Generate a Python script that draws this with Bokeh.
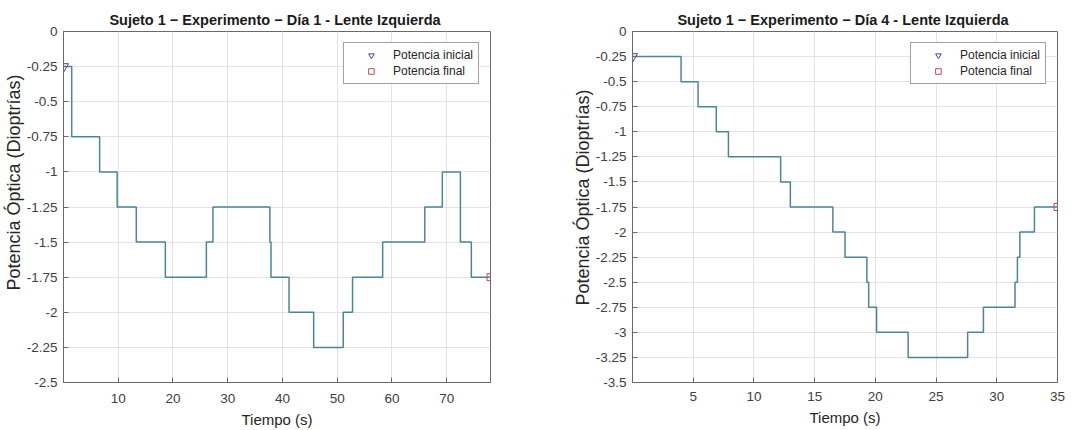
from bokeh.plotting import figure
from bokeh.layouts import row
from bokeh.models import FixedTicker, Range1d, Legend, LegendItem, Title
from bokeh.embed import file_html
from bokeh.resources import INLINE

# ---- data ----
titles = ["Sujeto 1  \u2212 Experimento \u2212 D\u00eda 1 - Lente Izquierda".replace("\u00ea", "\u00ed"),
          "Sujeto 1  \u2212 Experimento \u2212 D\u00eda 4 - Lente Izquierda".replace("\u00ea", "\u00ed")]

t1 = [0, 1.5, 6.6, 9.8, 13.3, 18.6, 26.1, 27.3, 37.7, 37.9, 41.2, 45.7, 51.1, 52.8,
      58.3, 66.0, 69.2, 72.5, 74.5, 78]
v1 = [-0.25, -0.75, -1.0, -1.25, -1.5, -1.75, -1.5, -1.25, -1.5, -1.75, -2.0, -2.25,
      -2.0, -1.75, -1.5, -1.25, -1.0, -1.5, -1.75, -1.75]

t2 = [0, 4.0, 5.4, 6.9, 7.9, 12.2, 13.0, 16.5, 17.5, 19.3, 19.45, 20.1, 22.7, 27.6,
      28.9, 31.5, 31.7, 31.9, 33.1, 35]
v2 = [-0.25, -0.5, -0.75, -1.0, -1.25, -1.5, -1.75, -2.0, -2.25, -2.5, -2.75, -3.0,
      -3.25, -3.0, -2.75, -2.5, -2.25, -2.0, -1.75, -1.75]

x_ticks_1 = [10, 20, 30, 40, 50, 60, 70]
x_ticks_2 = [5, 10, 15, 20, 25, 30, 35]
y_ticks_1 = [0, -0.25, -0.5, -0.75, -1, -1.25, -1.5, -1.75, -2, -2.25, -2.5]
y_ticks_2 = [0, -0.25, -0.5, -0.75, -1, -1.25, -1.5, -1.75, -2, -2.25, -2.5, -2.75,
             -3, -3.25, -3.5]
x_limits = [(0, 78), (0, 35)]
y_limits = [(-2.5, 0), (-3.5, 0)]

x_label = "Tiempo (s)"
y_label = "Potencia \u00d3ptica (Dioptr\u00edas)"
legend_labels = ["Potencia inicial", "Potencia final"]

FONT = "Liberation Sans"
LINE = "#4d8595"
AX = "#6a6a6a"


def style_axis(ax, ticks):
    ax.ticker = FixedTicker(ticks=ticks)
    ax.major_tick_in = 5
    ax.major_tick_out = 0
    ax.minor_tick_in = 0
    ax.minor_tick_out = 0
    ax.axis_line_color = AX
    ax.major_tick_line_color = AX
    ax.major_label_text_font = FONT
    ax.major_label_text_color = "#404040"
    ax.major_label_text_font_size = "13.5px"
    ax.major_label_overrides = {float(v): f"{v:g}" for v in ticks}


def make(idx, t, v, xt, yt, width, bl, br, bb, ylab_offset, xstand):
    p = figure(width=width, height=430, output_backend="svg", toolbar_location=None,
               x_range=Range1d(*x_limits[idx]), y_range=Range1d(*y_limits[idx]),
               min_border_left=bl, min_border_right=br, min_border_top=31,
               min_border_bottom=bb)
    p.title.text = titles[idx]
    p.title.align = "center"
    p.title.text_font = FONT
    p.title.text_font_size = "14.5px"
    p.title.text_font_style = "bold"
    p.title.text_color = "#1a1a1a"
    p.title.standoff = 7

    p.step(t, v, mode="after", line_color=LINE, line_width=1.5)
    r1 = p.scatter([t[0]], [v[0]], marker="inverted_triangle", size=10,
                   line_color="#4040a0", fill_color=None, line_width=1)
    r2 = p.scatter([t[-1]], [v[-1]], marker="square", size=7,
                   line_color="#c04858", fill_color=None, line_width=1)

    style_axis(p.xaxis[0], xt)
    style_axis(p.yaxis[0], yt)
    p.xaxis[0].major_label_standoff = xstand
    p.yaxis[0].major_label_standoff = 6
    ax = p.xaxis[0]
    ax.axis_label = x_label
    ax.axis_label_text_font = FONT
    ax.axis_label_text_font_size = "15px"
    ax.axis_label_text_font_style = "normal"
    ax.axis_label_text_color = "#262626"
    ax.axis_label_standoff = 5

    ylab = Title(text=y_label, align="left", offset=ylab_offset,
                 text_font=FONT, text_font_size="18px", text_font_style="normal",
                 text_color="#262626", standoff=0)
    p.add_layout(ylab, "left")

    p.xgrid.ticker = FixedTicker(ticks=xt)
    p.ygrid.ticker = FixedTicker(ticks=yt)
    p.grid.grid_line_color = "#e3e3e3"
    p.grid.grid_line_width = 1
    p.outline_line_color = AX
    p.outline_line_width = 1
    p.background_fill_color = "white"
    p.border_fill_color = "white"

    legend = Legend(items=[LegendItem(label=legend_labels[0], renderers=[r1]),
                           LegendItem(label=legend_labels[1], renderers=[r2])],
                    location="top_right")
    legend.margin = 11
    legend.padding = 5
    legend.spacing = 2
    legend.glyph_width = 44
    legend.glyph_height = 14
    legend.label_height = 14
    legend.label_standoff = 0
    legend.label_text_font = FONT
    legend.label_text_font_size = "12px"
    legend.label_text_color = "#262626"
    legend.border_line_color = "#404040"
    legend.border_line_width = 1
    legend.background_fill_color = "white"
    legend.background_fill_alpha = 1
    p.add_layout(legend, "center")
    return p


p1 = make(0, t1, v1, x_ticks_1, y_ticks_1, 545, 63, 55, 48, 92, 11)
p2 = make(1, t2, v2, x_ticks_2, y_ticks_2, 545, 87, 33, 46, 77, 9)

layout = row(p1, p2)
open("out.html", "w").write(file_html(layout, INLINE))
